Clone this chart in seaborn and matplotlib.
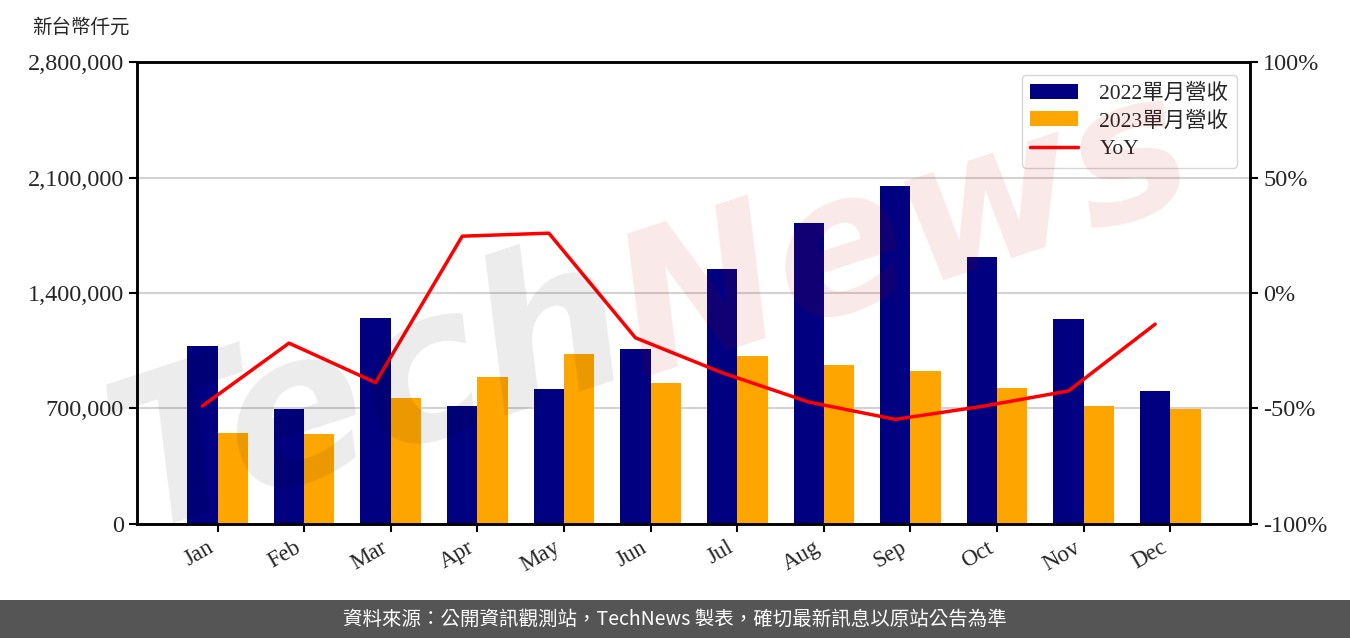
import seaborn as sns
import matplotlib.pyplot as plt
import matplotlib.ticker as mticker
from matplotlib.patches import Rectangle
import numpy as np
import pandas as pd

# datos
meses = ["Jan", "Feb", "Mar", "Apr", "May", "Jun", "Jul", "Aug", "Sep", "Oct", "Nov", "Dec"]
ingresos_2022 = [1079000, 697000, 1248000, 715000, 818000, 1061000, 1545000, 1824000, 2048000, 1618000, 1242000, 806000]
ingresos_2023 = [551000, 545000, 764000, 891000, 1030000, 854000, 1018000, 964000, 927000, 824000, 715000, 697000]
yoy = [-48.9, -21.7, -38.8, 24.6, 25.9, -19.4, -34.5, -47.2, -54.7, -49.1, -42.4, -13.5]
etiquetas = ["2022單月營收", "2023單月營收"]

df = pd.DataFrame({
    "mes": meses * 2,
    "serie": [etiquetas[0]] * 12 + [etiquetas[1]] * 12,
    "ingreso": ingresos_2022 + ingresos_2023,
})

sns.set_style("white")
plt.rcParams["font.family"] = ["Liberation Serif", "Noto Sans CJK TC", "DejaVu Sans"]

fig = plt.figure(figsize=(13.5, 6.38), dpi=100)
ax = fig.add_axes([0.1015, 0.1787, 0.8244, 0.7241])

sns.barplot(data=df, x="mes", y="ingreso", hue="serie", palette=["#000080", "#FFA500"],
            width=0.7, saturation=1, errorbar=None, linewidth=0, ax=ax, zorder=2)
ax.set_ylim(0, 2800000)
ax.set_yticks(np.arange(0, 2800001, 700000))
ax.yaxis.set_major_formatter(mticker.FuncFormatter(lambda v, p: f"{v:,.0f}"))
ax.grid(axis="y", color="#d3d3d3", lw=1.5, zorder=0)
ax.set_axisbelow(True)
ax.set_xlabel("")
ax.set_ylabel("")

ax2 = ax.twinx()
sns.lineplot(x=np.arange(12) - 0.175, y=yoy, color="red", lw=2.5, ax=ax2)
ax2.set_ylim(-100, 100)
ax2.set_yticks(np.arange(-100, 101, 50))
ax2.yaxis.set_major_formatter(mticker.FuncFormatter(lambda v, p: f"{v:.0f}%"))
ax.set_xlim(-0.93, 11.92)

for a in (ax, ax2):
    for s in a.spines.values():
        s.set_color("black")
        s.set_linewidth(1.8)
    a.tick_params(axis="both", length=6, width=1.5, color="black", labelsize=17.5, direction="out")
ax.tick_params(axis="x", labelsize=16.5, labelrotation=30, bottom=True)
for t in ax.get_xticklabels():
    t.set_ha("right")

h1, l1 = ax.get_legend_handles_labels()
ax.get_legend().remove()
ax2.legend(h1 + ax2.get_lines()[:1], etiquetas + ["YoY"], loc="upper right", fontsize=15.5,
           handlelength=2.2, labelspacing=0.35, borderaxespad=0.6, handletextpad=1.0)

fig.text(0.024, 1 - 27 / 638, "新台幣仟元", fontsize=14, va="center", ha="left")

# marca de agua
fig.text(370 / 1350, 1 - 395 / 638, "Tech", fontsize=150, fontweight="bold", style="italic",
         family="DejaVu Sans", color="black", alpha=0.08, rotation=18, ha="center", va="center")
fig.text(905 / 1350, 1 - 235 / 638, "News", fontsize=140, fontweight="bold", style="italic",
         family="DejaVu Sans", color="#d00000", alpha=0.09, rotation=18, ha="center", va="center")

# franja inferior
fig.patches.append(Rectangle((0, 0), 1, 38 / 638, transform=fig.transFigure,
                             facecolor="#555555", edgecolor="none", zorder=1))
fig.text(0.5, 19 / 638, "資料來源：公開資訊觀測站，TechNews 製表，確切最新訊息以原站公告為準",
         family=["Noto Sans CJK TC"], color="white", fontsize=14, ha="center", va="center", zorder=2)

fig.savefig("out.png", dpi=100)
